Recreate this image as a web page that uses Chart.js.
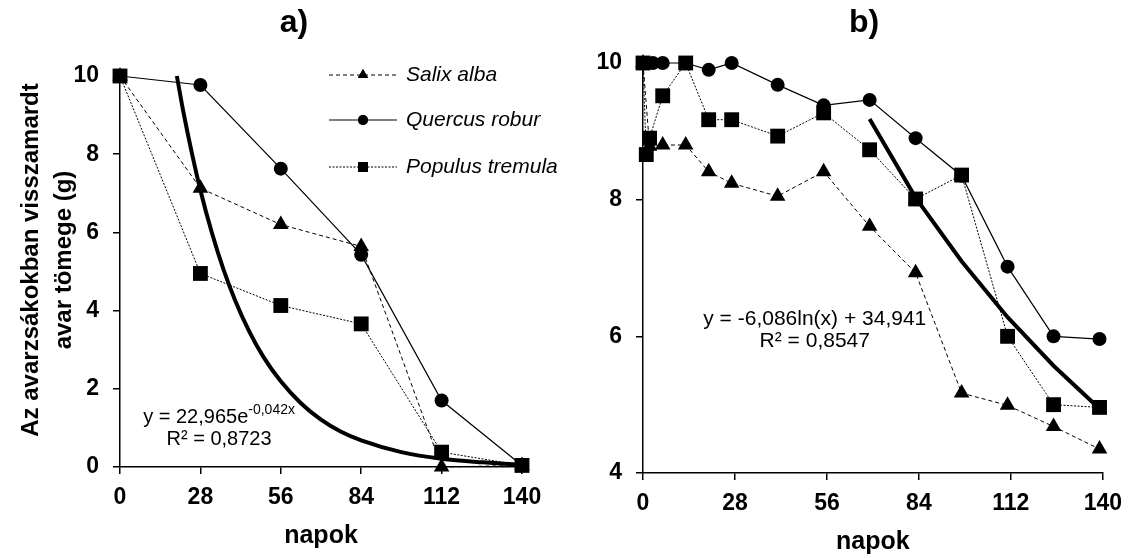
<!DOCTYPE html>
<html>
<head>
<meta charset="utf-8">
<script src="https://cdn.jsdelivr.net/npm/chart.js@4.4.0/dist/chart.umd.min.js"></script>
<style>
  html, body { margin: 0; padding: 0; background: #fff; }
  body { width: 1132px; height: 558px; position: relative; overflow: hidden; }
  canvas { position: absolute; top: 0; }
  #chartA { left: 0; }
  #chartB { left: 590px; }
</style>
</head>
<body>
<canvas id="chartA" width="588" height="558"></canvas>
<canvas id="chartB" width="542" height="558"></canvas>
<script>
// ---- panel a) : sampled every 28 days
const daysA = [0, 28, 56, 84, 112, 140];
const salixA = [10, 7.13, 6.2, 5.64, 0.0, 0.04];
const quercusA = [10, 9.77, 7.63, 5.43, 1.7, 0.04];
const populusA = [10, 4.95, 4.13, 3.66, 0.38, 0.04];
// exponential trend line
const trendDaysA = [19.8, 22, 25, 28, 32, 36, 40, 45, 50, 56, 63, 70, 77, 84, 98, 112, 126, 140];
const trendA = [10.0, 9.11, 8.04, 7.08, 5.99, 5.06, 4.28, 3.47, 2.81, 2.19, 1.63, 1.21, 0.9, 0.68, 0.38, 0.21, 0.12, 0.06];

// ---- panel b)
const daysSalixB = [0, 2, 6, 13, 20, 27, 41, 55, 69, 83, 97, 111, 125, 139];
const salixB = [10, 8.78, 8.8, 8.8, 8.41, 8.24, 8.05, 8.41, 7.61, 6.93, 5.17, 4.99, 4.68, 4.35];
const daysQuercusB = [0, 3, 6, 13, 20, 27, 41, 55, 69, 83, 97, 111, 125, 139];
const quercusB = [10, 10, 10, 10, 9.9, 10, 9.68, 9.38, 9.46, 8.9, 8.35, 7.02, 6.0, 5.96];
const daysPopulusB = [0, 1, 2, 6, 13, 20, 27, 41, 55, 69, 83, 97, 111, 125, 139];
const populusB = [10, 8.66, 8.9, 9.52, 10, 9.17, 9.17, 8.93, 9.27, 8.73, 8.01, 8.36, 6.0, 5.0, 4.96];
const trendDaysB = [69, 83, 97, 111, 125, 139];
const trendB = [9.18, 8.03, 7.1, 6.28, 5.57, 4.94];

const xTicks = [0, 28, 56, 84, 112, 140];
const speciesNames = ['Salix alba', 'Quercus robur', 'Populus tremula'];
const yTitleLines = ['Az avarzsákokban visszamardt', 'avar tömege (g)'];

const FONT = "'Liberation Sans', Arial, Helvetica, sans-serif";

function pts(xs, ys) { return xs.map((x, i) => ({ x: x, y: ys[i] })); }

function speciesSets(salix, quercus, populus) {
  return [
    { label: speciesNames[0], data: salix, borderColor: '#000', backgroundColor: '#000', borderWidth: 1,
      borderDash: [4, 3], pointStyle: 'triangle', pointRadius: 9, order: 3 },
    { label: speciesNames[1], data: quercus, borderColor: '#000', backgroundColor: '#000', borderWidth: 1.2,
      borderDash: [], pointStyle: 'circle', pointRadius: 7, order: 2 },
    { label: speciesNames[2], data: populus, borderColor: '#000', backgroundColor: '#000', borderWidth: 1,
      borderDash: [2, 1.5], pointStyle: 'rect', pointRadius: 10.5, order: 1 }
  ].map(d => Object.assign(d, { tension: 0, clip: false, pointBorderWidth: 0, pointHoverRadius: d.pointRadius }));
}

function trendSet(data, smooth) {
  return { label: 'trend', data: data, borderColor: '#000', borderWidth: 4, pointRadius: 0,
    tension: smooth ? 0.4 : 0, cubicInterpolationMode: smooth ? 'monotone' : 'default', clip: false, order: 0 };
}

function axes(yMin, yMax, yWidth, xHeight, xTitlePad) {
  const tickFont = { family: FONT, size: 23, weight: 'bold' };
  const grid = { display: true, drawOnChartArea: false, drawTicks: true, tickLength: 7, color: '#000', lineWidth: 1.5 };
  const border = { display: true, color: '#000', width: 1.5 };
  return {
    x: {
      type: 'linear', min: 0, max: 140,
      afterBuildTicks: s => { s.ticks = xTicks.map(v => ({ value: v })); },
      afterFit: s => { s.height = xHeight; },
      ticks: { color: '#000', font: tickFont, padding: 10, maxRotation: 0 },
      grid: grid, border: border,
      title: { display: true, text: 'napok', color: '#000', font: { family: FONT, size: 25, weight: 'bold' },
        padding: { top: 0, bottom: xTitlePad } }
    },
    y: {
      min: yMin, max: yMax,
      ticks: { stepSize: 2, color: '#000', font: tickFont, padding: 14 },
      afterFit: s => { s.width = yWidth; },
      grid: grid, border: border
    }
  };
}

// free text: panel letter, rotated y title, equations (superscript parts allowed)
const textPlugin = {
  id: 'freeText',
  afterDraw(chart, args, opts) {
    const ctx = chart.ctx;
    const sx = chart.scales.x, sy = chart.scales.y;
    ctx.save();
    ctx.fillStyle = '#000';
    (opts.items || []).forEach(it => {
      let w = 0;
      it.parts.forEach(p => { ctx.font = (p.style || '') + ' ' + p.size + 'px ' + FONT; p.w = ctx.measureText(p.t).width; w += p.w; });
      const cx = it.data ? sx.getPixelForValue(it.x) : it.x;
      const cy = it.data ? sy.getPixelForValue(it.y) : it.y;
      ctx.save();
      ctx.translate(cx, cy);
      if (it.rotate) ctx.rotate(it.rotate);
      ctx.textAlign = 'left';
      ctx.textBaseline = it.baseline || 'alphabetic';
      let x = -w / 2;
      it.parts.forEach(p => {
        ctx.font = (p.style || '') + ' ' + p.size + 'px ' + FONT;
        ctx.fillText(p.t, x, -(p.rise || 0));
        x += p.w;
      });
      ctx.restore();
    });
    ctx.restore();
  }
};

// legend drawn as line sample + marker + italic name
const legendPlugin = {
  id: 'sampleLegend',
  afterDraw(chart, args, opts) {
    if (!opts.show) return;
    const ctx = chart.ctx;
    ctx.save();
    opts.rows.forEach((rowY, i) => {
      const ds = chart.data.datasets[i];
      ctx.strokeStyle = '#000';
      ctx.lineWidth = ds.borderWidth;
      ctx.setLineDash(ds.borderDash);
      ctx.beginPath();
      ctx.moveTo(opts.x0, rowY);
      ctx.lineTo(opts.x1, rowY);
      ctx.stroke();
      ctx.setLineDash([]);
      ctx.fillStyle = '#000';
      Chart.helpers.drawPoint(ctx, { pointStyle: ds.pointStyle, rotation: 0, radius: opts.radius[i], borderWidth: 0 },
        (opts.x0 + opts.x1) / 2, rowY);
      ctx.fill();
      ctx.font = 'italic 21px ' + FONT;
      ctx.textBaseline = 'middle';
      ctx.textAlign = 'left';
      ctx.fillText(ds.label, opts.textX, rowY);
    });
    ctx.restore();
  }
};

// panel a)
new Chart(document.getElementById('chartA').getContext('2d'), {
  type: 'line',
  data: {
    datasets: speciesSets(pts(daysA, salixA), pts(daysA, quercusA), pts(daysA, populusA))
      .concat([trendSet(pts(trendDaysA, trendA), true)])
  },
  options: {
    responsive: false, animation: false, events: [],
    layout: { padding: { left: 0, right: 66, top: 76, bottom: 0 } },
    scales: axes(0, 10, 120, 91, 7),
    plugins: {
      legend: { display: false }, tooltip: { enabled: false }, title: { display: false },
      sampleLegend: { show: true, rows: [75, 120, 167], x0: 329, x1: 397, textX: 406, radius: [6, 5, 7] },
      freeText: { items: [
        { x: 294, y: 23, baseline: 'middle', parts: [{ t: 'a)', size: 32, style: 'bold' }] },
        { x: 31, y: 260, rotate: -Math.PI / 2, baseline: 'middle', parts: [{ t: yTitleLines[0], size: 24, style: 'bold' }] },
        { x: 64, y: 260, rotate: -Math.PI / 2, baseline: 'middle', parts: [{ t: yTitleLines[1], size: 24, style: 'bold' }] },
        { data: true, x: 34.5, y: 1.13, parts: [{ t: 'y = 22,965e', size: 20 }, { t: '-0,042x', size: 14, rise: 9 }] },
        { data: true, x: 34.5, y: 0.56, parts: [{ t: 'R² = 0,8723', size: 20 }] }
      ] }
    }
  },
  plugins: [textPlugin, legendPlugin]
});

// panel b)
new Chart(document.getElementById('chartB').getContext('2d'), {
  type: 'line',
  data: {
    datasets: speciesSets(pts(daysSalixB, salixB), pts(daysQuercusB, quercusB), pts(daysPopulusB, populusB))
      .concat([trendSet(pts(trendDaysB, trendB), false)])
  },
  options: {
    responsive: false, animation: false, events: [],
    layout: { padding: { left: 0, right: 29, top: 63, bottom: 0 } },
    scales: axes(4, 10, 53, 85, 1),
    plugins: {
      legend: { display: false }, tooltip: { enabled: false }, title: { display: false },
      sampleLegend: { show: false },
      freeText: { items: [
        { x: 274, y: 23, baseline: 'middle', parts: [{ t: 'b)', size: 32, style: 'bold' }] },
        { data: true, x: 52.3, y: 6.17, parts: [{ t: 'y = -6,086ln(x) + 34,941', size: 21 }] },
        { data: true, x: 52.3, y: 5.84, parts: [{ t: 'R² = 0,8547', size: 21 }] }
      ] }
    }
  },
  plugins: [textPlugin, legendPlugin]
});
</script>
</body>
</html>
